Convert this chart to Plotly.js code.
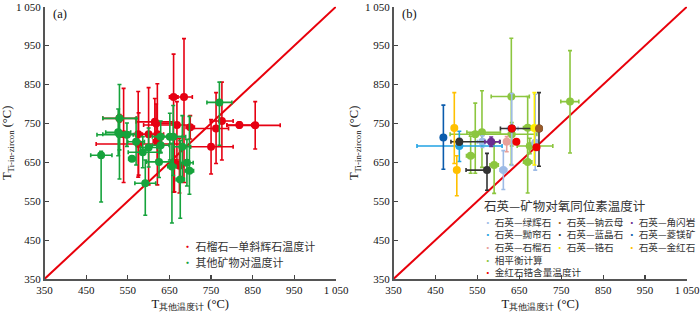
<!DOCTYPE html>
<html>
<head>
<meta charset="utf-8">
<script src="https://cdn.plot.ly/plotly-3.0.1.min.js"></script>
<style>html,body{margin:0;padding:0;background:#fff}#chart{width:700px;height:314px}</style>
</head>
<body>
<div id="chart"></div>
<script>
// ---------- axis ticks ----------
const tickVals = [350, 450, 550, 650, 750, 850, 950, 1050];
const tickText = ['350', '450', '550', '650', '750', '850', '950', '1 050'];
const diagonal = [350, 1050];

// ---------- panel (a) : rows = [x, y, x-err minus, x-err plus, y-err minus, y-err plus] ----------
const grtCpxPoints = [
  [660, 818, 10, 10, 245, 110],
  [685, 818, 15, 20, 220, 150],
  [615, 754, 45, 45, 60, 60],
  [618, 750, 10, 40, 50, 50],
  [668, 746, 80, 32, 90, 60],
  [700, 740, 10, 10, 30, 30],
  [575, 722, 25, 25, 110, 110],
  [600, 722, 15, 15, 130, 120],
  [621, 722, 15, 15, 130, 130],
  [576, 697, 102, 100, 80, 80],
  [621, 705, 10, 10, 50, 50],
  [662, 649, 10, 10, 75, 70],
  [674, 641, 10, 10, 70, 70],
  [750, 690, 50, 53, 70, 70],
  [762, 737, 60, 30, 90, 92],
  [776, 756, 28, 27, 100, 100],
  [818, 746, 30, 30, 8, 8],
  [856, 745, 68, 60, 61, 61],
  [540, 722, 10, 10, 124, 118],
  [530, 763, 40, 40, 10, 10]
];
const otherPairPoints = [
  [486, 668, 25, 26, 120, 10],
  [530, 763, 40, 41, 156, 87],
  [527, 727, 30, 30, 60, 60],
  [530, 722, 40, 40, 40, 40],
  [548, 721, 72, 15, 30, 30],
  [570, 703, 20, 20, 60, 60],
  [560, 659, 8, 8, 3, 3],
  [600, 688, 20, 20, 50, 50],
  [586, 676, 35, 40, 40, 40],
  [592, 596, 25, 25, 82, 60],
  [625, 651, 30, 30, 40, 40],
  [629, 694, 20, 20, 20, 20],
  [629, 716, 20, 20, 40, 40],
  [651, 716, 30, 30, 60, 60],
  [659, 716, 30, 30, 100, 80],
  [681, 690, 20, 20, 80, 80],
  [656, 639, 10, 10, 145, 60],
  [676, 606, 10, 10, 100, 100],
  [692, 649, 15, 15, 60, 60],
  [698, 628, 10, 10, 60, 140],
  [770, 804, 30, 30, 110, 52]
];

// ---------- panel (b) ----------
const phaseEqPoints = [
  [631, 819, 48, 43, 175, 150],
  [670, 739, 10, 10, 90, 80],
  [670, 651, 10, 10, 80, 40],
  [675, 692, 30, 55, 20, 20],
  [545, 722, 60, 79, 100, 80],
  [561, 727, 36, 44, 90, 107],
  [534, 667, 10, 10, 45, 50],
  [590, 643, 10, 10, 73, 57],
  [632, 722, 100, 60, 30, 30],
  [771, 806, 22, 21, 132, 131]
];
const cpxPoints = [
  [632, 737, 10, 15, 95, 90],
  [688, 700, 5, 5, 70, 125],
  [562, 703, 12, 12, 15, 15],
  [612, 630, 8, 8, 50, 50]
];
const zoisitePoints = [
  [507, 692, 101, 102, 40, 38]
];
const kyanitePoints = [
  [697, 737, 5, 5, 97, 92],
  [632, 737, 27, 52, 5, 5],
  [507, 703, 20, 97, 8, 8],
  [573, 630, 50, 5, 52, 43]
];
const magnesitePoints = [
  [469, 714, 3, 3, 82, 83]
];
const garnetPoints = [
  [620, 703, 5, 5, 26, 13]
];
const amphibolePoints = [
  [583, 703, 15, 20, 12, 12]
];
const rutilePoints = [
  [495, 738, 5, 5, 91, 91],
  [501, 630, 5, 5, 66, 37]
];
const zirconPoints = [
  [686, 738, 5, 5, 95, 91]
];
const paragonitePoints = [
  [697, 737, 4, 4, 4, 4]
];
const zrInRutilePoints = [
  [632, 737, 5, 5, 5, 5],
  [643, 703, 5, 5, 5, 5],
  [691, 689, 5, 5, 5, 5]
];

// ---------- legends ----------
const legendALabels = ['石榴石—单斜辉石温度计', '其他矿物对温度计'];
const legendAColors = ['#E60012', '#16A33C'];
const legendBTitle = '石英—矿物对氧同位素温度计';
const legendBColumns = [
  ['石英—绿辉石', '石英—黝帘石', '石英—石榴石'],
  ['石英—钠云母', '石英—蓝晶石', '石英—锆石'],
  ['石英—角闪岩', '石英—菱镁矿', '石英—金红石']
];
const legendBColumnColors = [
  ['#9DBBE6', '#22A3E4', '#E8A09A'],
  ['#9A5B2A', '#333333', '#FFEE00'],
  ['#6B2C91', '#0B5CAD', '#FFC000']
];
const legendBExtraLabels = ['相平衡计算', '金红石锆含量温度计'];
const legendBExtraColors = ['#8CC63F', '#EE0000'];

// ---------- build ----------
function makeTrace(points, color, xa, ya) {
  const col = i => points.map(p => p[i]);
  return {
    type: 'scatter', mode: 'markers', xaxis: xa, yaxis: ya, showlegend: false,
    x: col(0), y: col(1),
    marker: {color: color, size: 8},
    error_x: {type: 'data', symmetric: false, arrayminus: col(2), array: col(3), color: color, thickness: 1.6, width: 2},
    error_y: {type: 'data', symmetric: false, arrayminus: col(4), array: col(5), color: color, thickness: 1.6, width: 2},
    hoverinfo: 'x+y'
  };
}
function diagTrace(xa, ya) {
  return {type: 'scatter', mode: 'lines', x: diagonal, y: diagonal, xaxis: xa, yaxis: ya,
    showlegend: false, line: {color: '#E8000B', width: 2}, hoverinfo: 'skip'};
}

const data = [
  diagTrace('x', 'y'),
  makeTrace(grtCpxPoints, legendAColors[0], 'x', 'y'),
  makeTrace(otherPairPoints, legendAColors[1], 'x', 'y'),
  diagTrace('x2', 'y2'),
  makeTrace(phaseEqPoints, legendBExtraColors[0], 'x2', 'y2'),
  makeTrace(cpxPoints, legendBColumnColors[0][0], 'x2', 'y2'),
  makeTrace(zoisitePoints, legendBColumnColors[0][1], 'x2', 'y2'),
  makeTrace(kyanitePoints, legendBColumnColors[1][1], 'x2', 'y2'),
  makeTrace(magnesitePoints, legendBColumnColors[2][1], 'x2', 'y2'),
  makeTrace(garnetPoints, legendBColumnColors[0][2], 'x2', 'y2'),
  makeTrace(amphibolePoints, legendBColumnColors[2][0], 'x2', 'y2'),
  makeTrace(rutilePoints, legendBColumnColors[2][2], 'x2', 'y2'),
  makeTrace(zirconPoints, legendBColumnColors[1][2], 'x2', 'y2'),
  makeTrace(paragonitePoints, legendBColumnColors[1][0], 'x2', 'y2'),
  makeTrace(zrInRutilePoints, legendBExtraColors[1], 'x2', 'y2')
];

const W = 700, H = 314;
const serif = 'Liberation Serif, Times New Roman, serif';
const cjk = 'Noto Sans CJK SC, sans-serif';
const yDomain = [1 - 279 / H, 1 - 6.7 / H];

function axisBase(domain, anchor, title, standoff) {
  return {
    domain: domain, anchor: anchor, range: [350, 1050], autorange: false,
    tickmode: 'array', tickvals: tickVals, ticktext: tickText,
    ticks: 'inside', ticklen: 4, tickwidth: 1.2, tickcolor: '#444',
    showline: true, linecolor: '#555', linewidth: 1.5,
    showgrid: false, zeroline: false, mirror: false,
    tickfont: {family: serif, size: 11, color: '#111'},
    title: {text: title, font: {family: serif, size: 12.5, color: '#111'}, standoff: standoff},
    automargin: false
  };
}
const xTitle = 'T<sub>其他温度计</sub> (°C)';
const yTitle = 'T<sub>Ti-in-zircon</sub> (°C)';

const annotations = [
  {text: '(a)', xref: 'paper', yref: 'paper', x: 51 / W, y: 1 - 14 / H, xanchor: 'left', yanchor: 'middle', showarrow: false, font: {family: serif, size: 12.5, color: '#111'}},
  {text: '(b)', xref: 'paper', yref: 'paper', x: 400 / W, y: 1 - 14 / H, xanchor: 'left', yanchor: 'middle', showarrow: false, font: {family: serif, size: 12.5, color: '#111'}}
];
const legendARowY = [246, 262];
legendALabels.forEach((lab, i) => {
  annotations.push({
    text: '<span style="color:' + legendAColors[i] + '">•</span> ' + lab,
    xref: 'paper', yref: 'paper', x: 181 / W, y: 1 - legendARowY[i] / H, xanchor: 'left', yanchor: 'middle',
    showarrow: false, borderpad: 0, font: {family: cjk, size: 11, color: '#333'}
  });
});
annotations.push({
  text: legendBTitle, xref: 'paper', yref: 'paper', x: 483 / W, y: 1 - 205.5 / H, xanchor: 'left', yanchor: 'middle',
  showarrow: false, borderpad: 0, font: {family: cjk, size: 12.5, color: '#333'}
});
const legendBColX = [482, 554, 626];
const dotLine = (color, lab) => '<span style="color:' + color + '">•</span> ' + lab;
legendBColumns.forEach((labels, c) => {
  const lines = labels.map((lab, r) => dotLine(legendBColumnColors[c][r], lab));
  annotations.push({
    text: lines.join('<br>'), align: 'left',
    xref: 'paper', yref: 'paper', x: legendBColX[c] / W, y: 1 - 214 / H, xanchor: 'left', yanchor: 'top',
    showarrow: false, borderpad: 0, font: {family: cjk, size: 9.6, color: '#333'}
  });
});
annotations.push({
  text: legendBExtraLabels.map((lab, r) => dotLine(legendBExtraColors[r], lab)).join('<br>'), align: 'left',
  xref: 'paper', yref: 'paper', x: legendBColX[0] / W, y: 1 - 251.6 / H, xanchor: 'left', yanchor: 'top',
  showarrow: false, borderpad: 0, font: {family: cjk, size: 9.6, color: '#333'}
});

const layout = {
  width: W, height: H, margin: {l: 0, r: 0, t: 0, b: 0},
  paper_bgcolor: '#fff', plot_bgcolor: '#fff', showlegend: false,
  xaxis: axisBase([44.5 / W, 336 / W], 'y', xTitle, 4),
  yaxis: axisBase(yDomain, 'x', yTitle, 3),
  xaxis2: axisBase([393.5 / W, 687 / W], 'y2', xTitle, 4),
  yaxis2: axisBase(yDomain, 'x2', yTitle, 3),
  annotations: annotations
};

Plotly.newPlot('chart', data, layout, {displayModeBar: false, staticPlot: true});
</script>
</body>
</html>
